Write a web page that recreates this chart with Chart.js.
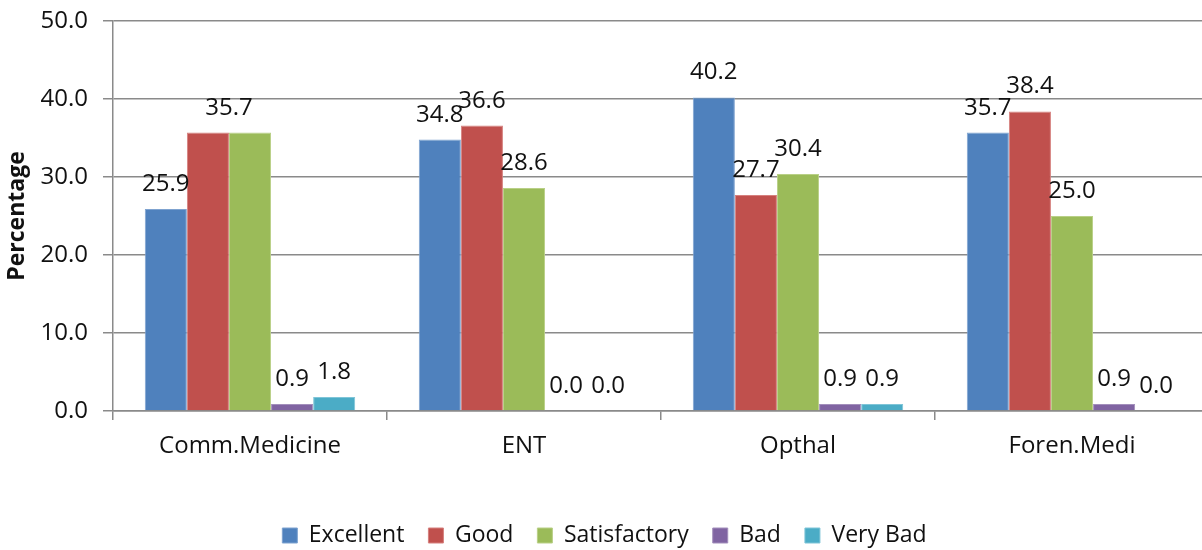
<!DOCTYPE html>
<html>
<head>
<meta charset="utf-8">
<script src="https://cdn.jsdelivr.net/npm/chart.js@4"></script>
<style>
  html, body { margin: 0; padding: 0; background: #fff; overflow: hidden; }
  #wrap { width: 1209px; height: 557px; position: relative; }
</style>
</head>
<body>
<div id="wrap"><canvas id="myChart"></canvas></div>
<script>
// chart data
const categories = ['Comm.Medicine', 'ENT', 'Opthal', 'Foren.Medi'];
const excellent = [25.9, 34.8, 40.2, 35.7];
const good = [35.7, 36.6, 27.7, 38.4];
const satisfactory = [35.7, 28.6, 30.4, 25.0];
const bad = [0.9, 0.0, 0.9, 0.9];
const veryBad = [1.8, 0.0, 0.9, 0.0];
const yTicks = [0, 10, 20, 30, 40, 50];

const FONT = "'Open Sans', 'DejaVu Sans', sans-serif";
const GRID = '#8a8a8a';

// value labels above the bars, excel style
const barLabels = {
  id: 'barLabels',
  afterDatasetsDraw(chart) {
    const ctx = chart.ctx;
    ctx.save();
    ctx.font = '24px ' + FONT;
    ctx.fillStyle = '#111';
    ctx.textAlign = 'center';
    ctx.textBaseline = 'alphabetic';
    const n = chart.data.labels.length;
    for (let i = 0; i < n; i++) {
      let items = [];
      chart.data.datasets.forEach((ds, d) => {
        const bar = chart.getDatasetMeta(d).data[i];
        items.push({ v: ds.data[i], x: bar.x, y: bar.y });
      });
      // same value on neighbouring bars -> one label between them
      for (let k = 0; k < items.length; k++) {
        const a = items[k], b = items[k + 1];
        if (b && a.v === b.v && a.v > 5) {
          ctx.fillText(a.v.toFixed(1), (a.x + b.x) / 2, Math.min(a.y, b.y) - 18);
          k++;
          continue;
        }
        ctx.fillText(a.v.toFixed(1), a.x, a.y - 18);
      }
    }
    ctx.restore();
  }
};

const chartData = {
  labels: categories,
  datasets: [
    { label: 'Excellent', data: excellent, backgroundColor: '#4F81BD', borderColor: '#7fa3d0' },
    { label: 'Good', data: good, backgroundColor: '#C0504D', borderColor: '#d6807e' },
    { label: 'Satisfactory', data: satisfactory, backgroundColor: '#9BBB59', borderColor: '#b9d087' },
    { label: 'Bad', data: bad, backgroundColor: '#8064A2', borderColor: '#a38fbc' },
    { label: 'Very Bad', data: veryBad, backgroundColor: '#4BACC6', borderColor: '#7fc5d8' }
  ]
};

const ctx = document.getElementById('myChart').getContext('2d');
const myChart = new Chart(ctx, {
  type: 'bar',
  data: chartData,
  options: {
    responsive: true,
    maintainAspectRatio: false,
    animation: false,
    datasets: {
      bar: { categoryPercentage: 0.768, barPercentage: 1.0, borderWidth: 1, borderSkipped: 'bottom' }
    },
    layout: { padding: { top: 0, right: 0, bottom: 0, left: 0 } },
    plugins: {
      tooltip: { enabled: false },
      legend: {
        position: 'bottom',
        labels: {
          boxWidth: 15,
          boxHeight: 15,
          padding: 24,
          color: '#111',
          font: { family: FONT, size: 23 }
        }
      }
    },
    scales: {
      x: {
        grid: {
          display: true,
          drawOnChartArea: false,
          drawTicks: true,
          tickLength: 9,
          color: GRID,
          lineWidth: 1.5
        },
        border: { display: true, color: GRID, width: 1.5 },
        ticks: {
          color: '#111',
          font: { family: FONT, size: 24 },
          padding: 12,
          maxRotation: 0
        },
        afterFit(scale) { scale.height = 89; }
      },
      y: {
        min: 0,
        max: 50,
        afterBuildTicks(scale) { scale.ticks = yTicks.map(v => ({ value: v })); },
        grid: { color: GRID, lineWidth: 1.5, tickLength: 10 },
        border: { display: true, color: GRID, width: 1.5 },
        ticks: {
          color: '#111',
          font: { family: FONT, size: 24 },
          padding: 15,
          callback: v => v.toFixed(1)
        },
        title: {
          display: true,
          text: 'Percentage',
          color: '#111',
          font: { family: FONT, size: 23, weight: 'bold' },
          padding: { top: 4, bottom: 4 }
        },
        afterFit(scale) {
          scale.width = 113;
          scale.paddingTop = 21;
        }
      }
    }
  },
  plugins: [barLabels]
});
</script>
</body>
</html>
